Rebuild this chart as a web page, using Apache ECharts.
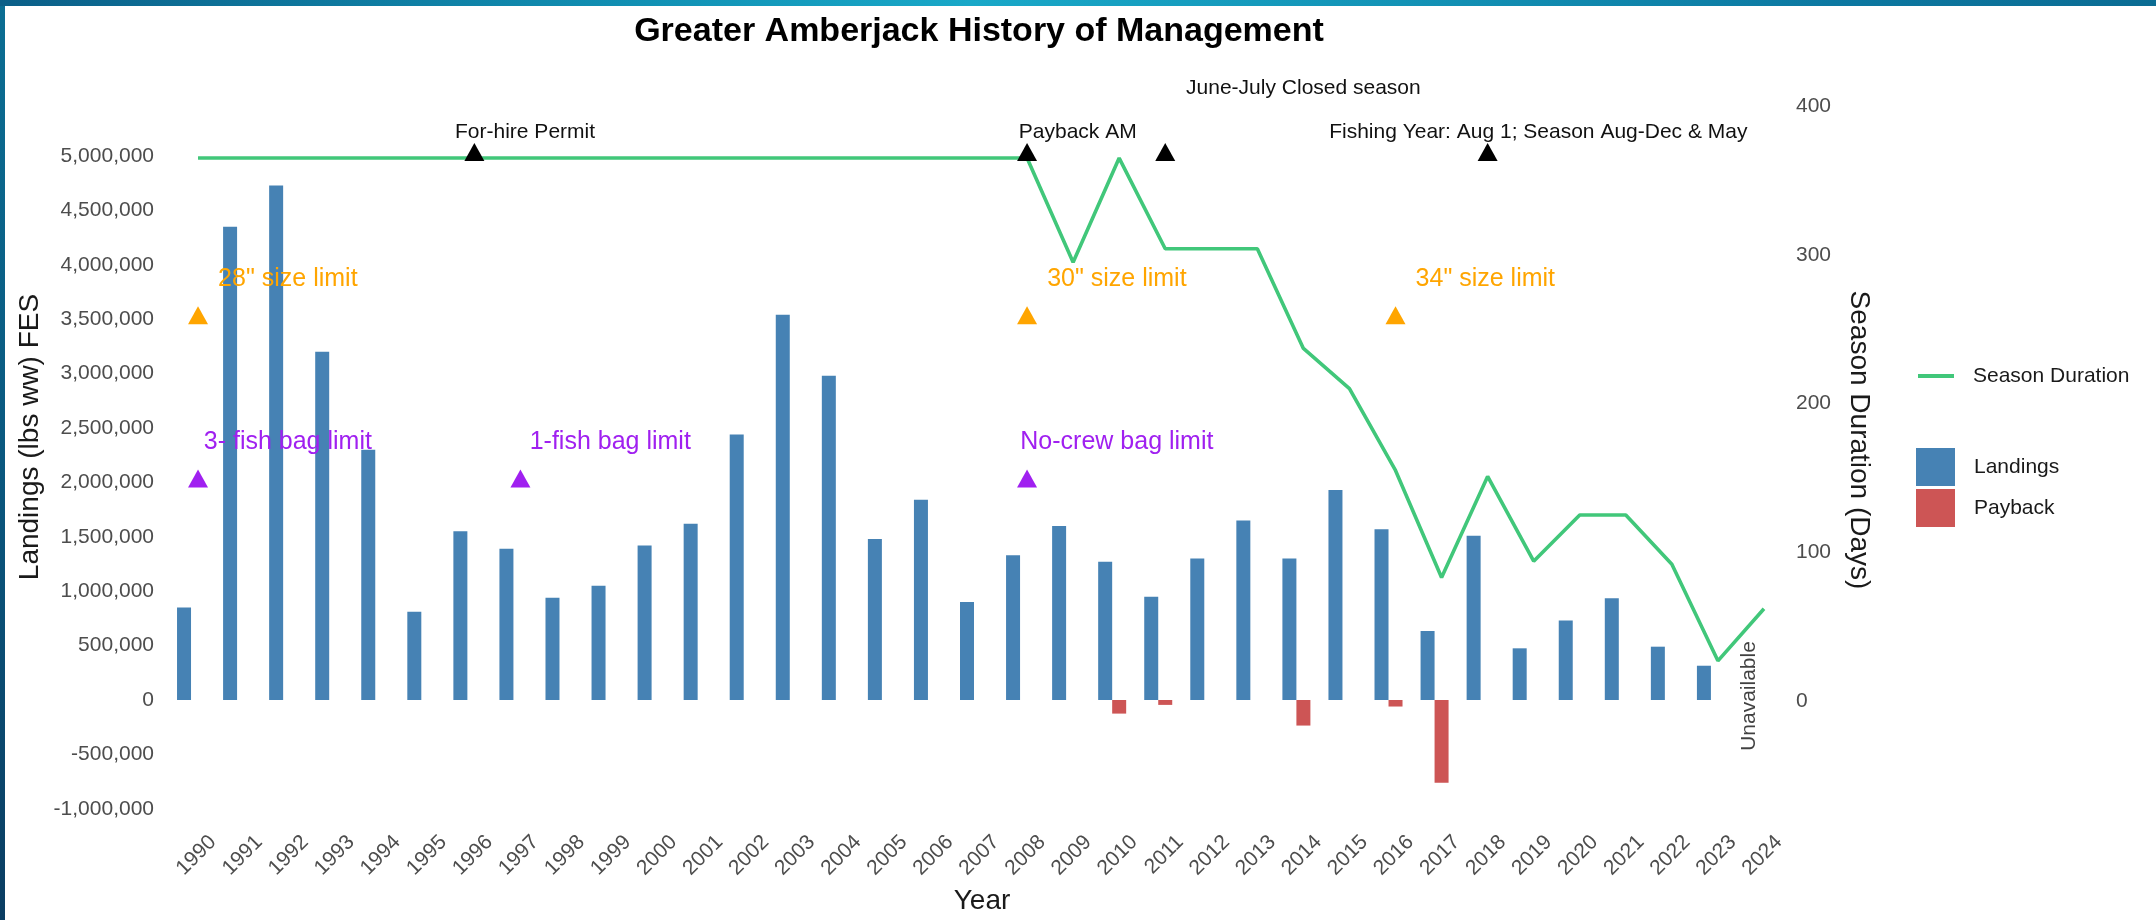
<!DOCTYPE html>
<html><head><meta charset="utf-8">
<script src="https://cdn.jsdelivr.net/npm/echarts@6/dist/echarts.min.js"></script>
<style>
html,body{margin:0;padding:0;width:2156px;height:920px;overflow:hidden;}
body{background:linear-gradient(to bottom,#0b6e93 0%,#0a587f 50%,#0a3d62 100%);position:relative;}
#topbar{position:absolute;left:0;top:0;width:2156px;height:6px;background:linear-gradient(to right,#0b5f88 0%,#1191b4 30%,#19a8c8 45%,#1393b6 65%,#0c78a1 85%,#0b6c93 100%);}
#white{position:absolute;left:5px;top:6px;width:2151px;height:914px;background:#fff;}
#chart{position:absolute;left:0;top:0;width:2156px;height:920px;}
</style></head><body>
<div id="topbar"></div><div id="white"></div><div id="chart"></div>
<script>
// ---- data ----
const years = ['1990','1991','1992','1993','1994','1995','1996','1997','1998','1999','2000','2001','2002','2003','2004','2005','2006','2007','2008','2009','2010','2011','2012','2013','2014','2015','2016','2017','2018','2019','2020','2021','2022','2023','2024'];
const landings = [850000,4350000,4730000,3200000,2300000,810000,1550000,1390000,940000,1050000,1420000,1620000,2440000,3540000,2980000,1480000,1840000,900000,1330000,1600000,1270000,950000,1300000,1650000,1300000,1930000,1570000,635000,1510000,475000,730000,935000,490000,315000,null];
const payback = [null,null,null,null,null,null,null,null,null,null,null,null,null,null,null,null,null,null,null,null,-125000,-45000,null,null,-235000,null,-60000,-760000,null,null,null,null,null,null,null];
const seasonDays = [365,365,365,365,365,365,365,365,365,365,365,365,365,365,365,365,365,365,365,295,365,304,304,304,237,210,155,83,151,94,125,125,92,27,62];
const leftTicks = [-1000000,5000000,500000];   // min, max, step
const rightTicks = [0,400,100];

const sizeYears = ['1990','2008','2016'];
const sizeTexts = ['28" size limit','30" size limit','34" size limit'];
const sizeMarkY = 3500000, sizeTextY = 3870000;
const bagYears = ['1990','1997','2008'];
const bagTexts = ['3- fish bag limit','1-fish bag limit','No-crew bag limit'];
const bagMarkY = 2000000, bagTextY = 2370000;
const mgmtYears = ['1996','2008','2011','2018'];
const mgmtTexts = ['For-hire Permit','Payback AM','June-July Closed season','Fishing Year: Aug 1; Season Aug-Dec & May'];
const mgmtMarkY = 5000000;
const mgmtTextY = [5220000,5220000,5625000,5220000];
const unavailYear = '2024', unavailText = 'Unavailable';

// ---- layout ----
const FF = '"Liberation Sans", Arial, sans-serif';
const GL = 175, GW = 1612;
const catW = GW / years.length;
const fmt = v => v.toLocaleString('en-US');

const chart = echarts.init(document.getElementById('chart'), null, {renderer:'canvas'});

function marks(yrs, yv, color) {
  return {type:'scatter', xAxisIndex:0, yAxisIndex:0, symbol:'triangle', symbolSize:[20,18], symbolOffset:[0,-4],
    itemStyle:{color:color, opacity:1}, data:yrs.map(y=>[y,yv]), clip:false, silent:true, z:5};
}
function texts(yrs, yv, txts, color, size, dxs) {
  return {type:'scatter', xAxisIndex:0, yAxisIndex:0, symbol:'circle', symbolSize:2,
    itemStyle:{color:'rgba(0,0,0,0)'}, clip:false, silent:true, z:6,
    data:yrs.map((y,i)=>({value:[y, Array.isArray(yv)?yv[i]:yv], label:{offset:[dxs[i],0]}})),
    label:{show:true, position:'inside', formatter:p=>txts[p.dataIndex], color:color, fontSize:size, fontFamily:FF, opacity:1}};
}

const option = {
  animation:false,
  textStyle:{fontFamily:FF},
  grid:[
    {left:GL, width:GW, top:156, height:652.8, outerBoundsMode:'none', containLabel:false},
    {left:GL, width:GW, top:106, height:595, outerBoundsMode:'none', containLabel:false},
    {left:GL+15, width:GW, top:156, height:652.8, outerBoundsMode:'none', containLabel:false}
  ],
  xAxis:[
    {type:'category', gridIndex:0, data:years, boundaryGap:true,
     axisLine:{show:false}, axisTick:{show:false}, splitLine:{show:false}, axisLabel:{show:false}},
    {type:'category', gridIndex:1, data:years, boundaryGap:true, show:false},
    {type:'category', gridIndex:2, data:years, boundaryGap:true,
     axisLine:{show:false}, axisTick:{show:false}, splitLine:{show:false},
     axisLabel:{rotate:45, interval:0, margin:30, fontSize:21, color:'#4d4d4d', fontFamily:FF, hideOverlap:false}}
  ],
  yAxis:[
    {type:'value', gridIndex:0, min:leftTicks[0], max:leftTicks[1], interval:leftTicks[2],
     axisLine:{show:false}, axisTick:{show:false}, splitLine:{show:false},
     axisLabel:{margin:21, fontSize:21, color:'#4d4d4d', fontFamily:FF, formatter:v=>fmt(v)}},
    {type:'value', gridIndex:1, position:'right', min:rightTicks[0], max:rightTicks[1], interval:rightTicks[2],
     axisLine:{show:false}, axisTick:{show:false}, splitLine:{show:false},
     axisLabel:{margin:9, fontSize:21, color:'#4d4d4d', fontFamily:FF}},
    {type:'value', gridIndex:2, min:leftTicks[0], max:leftTicks[1], interval:leftTicks[2], show:false}
  ],
  legend:[
    {data:[{name:'Season Duration', icon:'rect'}], left:1913, top:359, itemWidth:36, itemHeight:4,
     selectedMode:false, itemStyle:{borderWidth:0},
     textStyle:{fontSize:21, color:'#1a1a1a', fontFamily:FF, padding:[0,0,0,14], lineHeight:24}},
    {data:[{name:'Landings', icon:'rect'},{name:'Payback', icon:'rect'}], orient:'vertical', left:1911, top:443,
     itemWidth:39, itemHeight:38, itemGap:3, selectedMode:false, itemStyle:{borderWidth:0},
     textStyle:{fontSize:21, color:'#1a1a1a', fontFamily:FF, padding:[0,0,0,14]}}
  ],
  graphic:[
    {type:'text', x:979, y:32, style:{text:'Greater Amberjack History of Management', align:'center', verticalAlign:'middle',
      font:'bold 34px '+FF, fill:'#000'}, silent:true},
    {type:'text', x:30, y:437, rotation:Math.PI/2, style:{text:'Landings (lbs ww) FES', align:'center', verticalAlign:'middle',
      font:'28px '+FF, fill:'#1a1a1a'}, silent:true},
    {type:'text', x:1859, y:440, rotation:-Math.PI/2, style:{text:'Season Duration (Days)', align:'center', verticalAlign:'middle',
      font:'28px '+FF, fill:'#1a1a1a'}, silent:true},
    {type:'text', x:982, y:901, style:{text:'Year', align:'center', verticalAlign:'middle',
      font:'28px '+FF, fill:'#1a1a1a'}, silent:true}
  ],
  series:[
    {name:'Landings', type:'bar', xAxisIndex:0, yAxisIndex:0, data:landings, barWidth:14, barGap:'0%',
     itemStyle:{color:'#4682B4'}, silent:true},
    {name:'Payback', type:'bar', xAxisIndex:0, yAxisIndex:0, data:payback, barWidth:14, barGap:'0%',
     itemStyle:{color:'#CD5555'}, silent:true},
    {name:'_slot', type:'bar', xAxisIndex:0, yAxisIndex:0, data:years.map(()=>null), barWidth:14, barGap:'0%', silent:true},
    {name:'Season Duration', type:'line', xAxisIndex:1, yAxisIndex:1, data:seasonDays, symbol:'none',
     lineStyle:{width:3.6, color:'#41C77A'}, itemStyle:{color:'#41C77A'}, z:4, silent:true},
    marks(sizeYears, sizeMarkY, '#FFA500'),
    marks(bagYears, bagMarkY, '#A020F0'),
    marks(mgmtYears, mgmtMarkY, '#000000'),
    texts(sizeYears, sizeTextY, sizeTexts, '#FFA500', 25, sizeYears.map(()=>catW*1.95)),
    texts(bagYears, bagTextY, bagTexts, '#A020F0', 25, bagYears.map(()=>catW*1.95)),
    texts(mgmtYears, mgmtTextY, mgmtTexts, '#111111', 21, [catW*1.1, catW*1.1, catW*3, catW*1.1]),
    {type:'scatter', xAxisIndex:0, yAxisIndex:0, symbol:'circle', symbolSize:2, itemStyle:{color:'rgba(0,0,0,0)'},
     clip:false, silent:true, z:6, data:[[unavailYear, 0]],
     label:{show:true, position:'inside', offset:[4,-15], rotate:90, formatter:unavailText, fontSize:21, color:'#111111', fontFamily:FF}}
  ]
};
chart.setOption(option);
</script>
</body></html>
